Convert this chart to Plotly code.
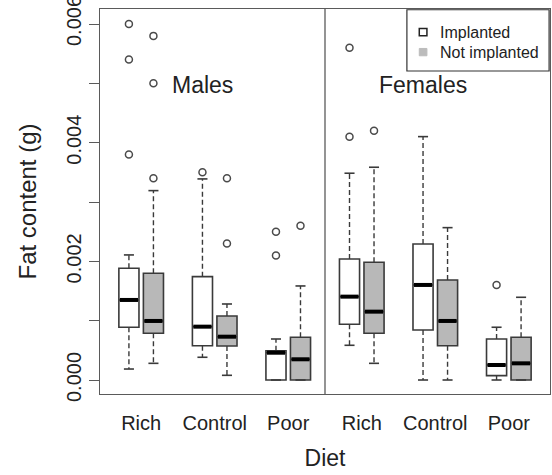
import plotly.graph_objects as go

# ---------------- data ----------------
sexes = ["Males", "Females"]
diets = ["Rich", "Control", "Poor"]
treatments = ["Implanted", "Not implanted"]

# one entry per box: Males (Rich I, Rich N, Control I, Control N, Poor I, Poor N), then Females
q1 = [0.000889, 0.000787, 0.000578, 0.000573, 0.0, 0.0,
      0.000939, 0.000787, 0.000843, 0.000578, 0.000073, 0.0]
median = [0.001349, 0.000995, 0.000899, 0.000730, 0.000460, 0.000349,
          0.001405, 0.001152, 0.001602, 0.000995, 0.000253, 0.000281]
q3 = [0.001883, 0.001799, 0.001742, 0.001079, 0.000494, 0.000720,
      0.002040, 0.001984, 0.002293, 0.001686, 0.000691, 0.000720]
whisker_low = [0.000185, 0.000281, 0.000383, 0.000079, 0.0, 0.0,
               0.000585, 0.000281, 0.0, 0.0, 0.0, 0.0]
whisker_high = [0.002108, 0.003192, 0.003389, 0.001281, 0.000691, 0.001585,
                0.003485, 0.003586, 0.004102, 0.002568, 0.000889, 0.001394]
outliers = [[0.0060, 0.0054, 0.0038], [0.0058, 0.0050, 0.0034], [0.0035],
            [0.0034, 0.0023], [0.0025, 0.0021], [0.0026],
            [0.0056, 0.0041], [0.0042], [], [], [0.0016], []]

y_tick_values = [0.000, 0.001, 0.002, 0.003, 0.004, 0.005, 0.006]
y_tick_labels = ["0.000", "", "0.002", "", "0.004", "", "0.006"]

# ---------------- styling ----------------
fills = {"Implanted": "white", "Not implanted": "#b8b8b8"}
edge = "#3a3a3a"
frame = "#5a5a5a"
font = "Liberation Sans, Arial, sans-serif"
box_w = 0.82
cap_w = 0.41

fig = go.Figure()

i = 0
for s_i, sex in enumerate(sexes):
    for d_i, diet in enumerate(diets):
        for t_i, trt in enumerate(treatments):
            pos = s_i * 9 + d_i * 3 + t_i + 1
            fig.add_trace(go.Box(
                x=[pos], q1=[q1[i]], median=[median[i]], q3=[q3[i]],
                lowerfence=[q1[i]], upperfence=[q3[i]],
                width=box_w, fillcolor=fills[trt],
                line=dict(color=edge, width=1.6),
                boxpoints=False, showlegend=False, hoverinfo="skip",
            ))
            # dashed whiskers
            fig.add_trace(go.Scatter(
                x=[pos, pos, None, pos, pos],
                y=[q3[i], whisker_high[i], None, q1[i], whisker_low[i]],
                mode="lines", line=dict(color=edge, width=1.4, dash="5px,3px"),
                showlegend=False, hoverinfo="skip"))
            # caps
            fig.add_trace(go.Scatter(
                x=[pos - cap_w / 2, pos + cap_w / 2, None, pos - cap_w / 2, pos + cap_w / 2],
                y=[whisker_high[i], whisker_high[i], None, whisker_low[i], whisker_low[i]],
                mode="lines", line=dict(color=edge, width=1.6),
                showlegend=False, hoverinfo="skip"))
            # thick median
            fig.add_trace(go.Scatter(
                x=[pos - box_w / 2 + 0.04, pos + box_w / 2 - 0.04], y=[median[i], median[i]],
                mode="lines", line=dict(color="black", width=4),
                showlegend=False, hoverinfo="skip"))
            # outliers
            if outliers[i]:
                fig.add_trace(go.Scatter(
                    x=[pos] * len(outliers[i]), y=outliers[i], mode="markers",
                    marker=dict(symbol="circle-open", size=7, color="#4a4a4a",
                                line=dict(width=1.5, color="#4a4a4a")),
                    showlegend=False, hoverinfo="skip"))
            i += 1

# group tick positions
tick_pos = []
tick_txt = []
for s_i in range(len(sexes)):
    for d_i, diet in enumerate(diets):
        tick_pos.append(s_i * 9 + d_i * 3 + 1.5)
        tick_txt.append(diet)

# panel separator
fig.add_shape(type="line", xref="x", yref="paper", x0=9, x1=9, y0=0, y1=1,
              line=dict(color=frame, width=1.3))

# panel labels
for s_i, sex in enumerate(sexes):
    fig.add_annotation(x=s_i * 9 + 4, y=0.00497, text=sex, showarrow=False,
                       font=dict(size=23, color="#222", family=font))

# legend (drawn like R's legend box)
fig.add_shape(type="rect", xref="paper", yref="paper", x0=0.682, x1=0.998, y0=0.839, y1=0.998,
              line=dict(color="#333", width=1.2), fillcolor="white", layer="above")
legend_y = [0.940, 0.888]
legend_sym = [dict(fillcolor="white", line=dict(color="#222", width=1.5)),
              dict(fillcolor="#bcbcbc", line=dict(color="#bcbcbc", width=1))]
for k, trt in enumerate(treatments):
    fig.add_shape(type="rect", xref="paper", yref="paper",
                  x0=0.718 - 0.0085, x1=0.718 + 0.0085,
                  y0=legend_y[k] - 0.0095, y1=legend_y[k] + 0.0095,
                  layer="above", **legend_sym[k])
    fig.add_annotation(xref="paper", yref="paper", x=0.752, y=legend_y[k], text=trt,
                       showarrow=False, xanchor="left", yanchor="middle",
                       font=dict(size=16, color="#222", family=font))

fig.update_layout(
    width=552, height=475,
    margin=dict(l=100, r=2, t=9, b=81),
    plot_bgcolor="white", paper_bgcolor="white",
    font=dict(family=font, color="#222"),
    showlegend=False,
)
fig.update_xaxes(range=[-0.18, 18.18], tickvals=tick_pos, ticktext=tick_txt,
                 showgrid=False, zeroline=False, showline=True, mirror=True,
                 linecolor=frame, linewidth=1.3, automargin=False,
                 ticks="outside", ticklen=11, tickcolor="rgba(0,0,0,0)",
                 tickfont=dict(size=20, color="#222", family=font),
                 title=dict(text="Diet", font=dict(size=23, color="#222", family=font),
                            standoff=16))
fig.update_yaxes(range=[-0.000236, 0.006253], tickvals=y_tick_values, ticktext=y_tick_labels,
                 tickangle=-90, showgrid=False, zeroline=False, showline=True, mirror=True,
                 linecolor=frame, linewidth=1.3, ticklabeloverflow="allow", automargin=False,
                 ticks="outside", ticklen=10, tickcolor=frame, tickwidth=1.3,
                 tickfont=dict(size=20, color="#222", family=font),
                 title=dict(text="Fat content (g)", font=dict(size=24, color="#222", family=font),
                            standoff=19))

fig.write_html("out.html")
